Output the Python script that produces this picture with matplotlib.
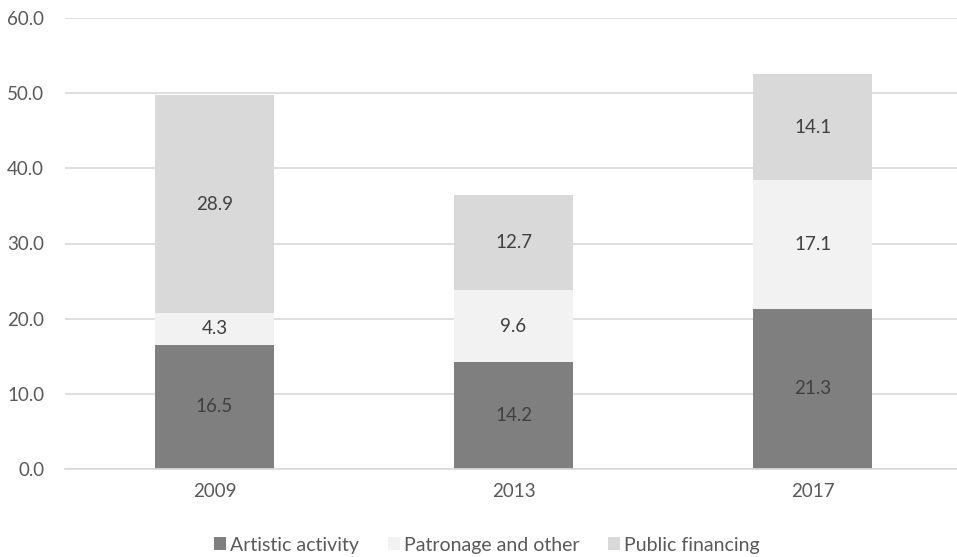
import matplotlib.pyplot as plt
import numpy as np

plt.rcParams['font.family'] = ['Lato', 'DejaVu Sans']

years = ['2009', '2013', '2017']
artistic = [16.5, 14.2, 21.3]
patronage = [4.3, 9.6, 17.1]
public = [28.9, 12.7, 14.1]

series_names = ['Artistic activity', 'Patronage and other', 'Public financing']
colors = ['#7f7f7f', '#f2f2f2', '#d9d9d9']
text_color = '#595959'

fig = plt.figure(figsize=(9.57, 5.57), dpi=100)
ax = fig.add_axes([65 / 957, 1 - 469 / 557, 892 / 957, 451 / 557])

x = np.arange(len(years))
bottom = np.zeros(len(years))
for vals, name, col in zip([artistic, patronage, public], series_names, colors):
    ax.bar(x, vals, width=0.4, bottom=bottom, color=col, label=name, zorder=2)
    for xi, b, v in zip(x, bottom, vals):
        ax.text(xi, b + v / 2, f'{v:.1f}', ha='center', va='center',
                fontsize=13.5, color='#404040', zorder=3)
    bottom += np.array(vals)

ax.set_xlim(-0.5, 2.483)
ax.set_ylim(0, 60)
ax.set_yticks(np.arange(0, 61, 10))
ax.set_yticklabels([f'{v:.1f}' for v in np.arange(0, 61, 10)])
ax.set_xticks(x)
ax.set_xticklabels(years)
ax.yaxis.grid(True, color='#d9d9d9', linewidth=1.2, zorder=0)
for s in ['top', 'right', 'left']:
    ax.spines[s].set_visible(False)
ax.spines['bottom'].set_color('#d9d9d9')
ax.spines['bottom'].set_linewidth(1.2)
ax.tick_params(axis='both', length=0, labelsize=13.5, colors=text_color)
ax.tick_params(axis='y', pad=15)
ax.tick_params(axis='x', pad=10)

leg = ax.legend(loc='center', ncol=3, frameon=False, fontsize=14, labelcolor=text_color,
                handlelength=0.6, handleheight=0.6, handletextpad=0.2, columnspacing=1.5)
leg.set_bbox_to_anchor((487 / 957, 1 - 545 / 557), transform=fig.transFigure)

fig.savefig('out.png', dpi=100)
